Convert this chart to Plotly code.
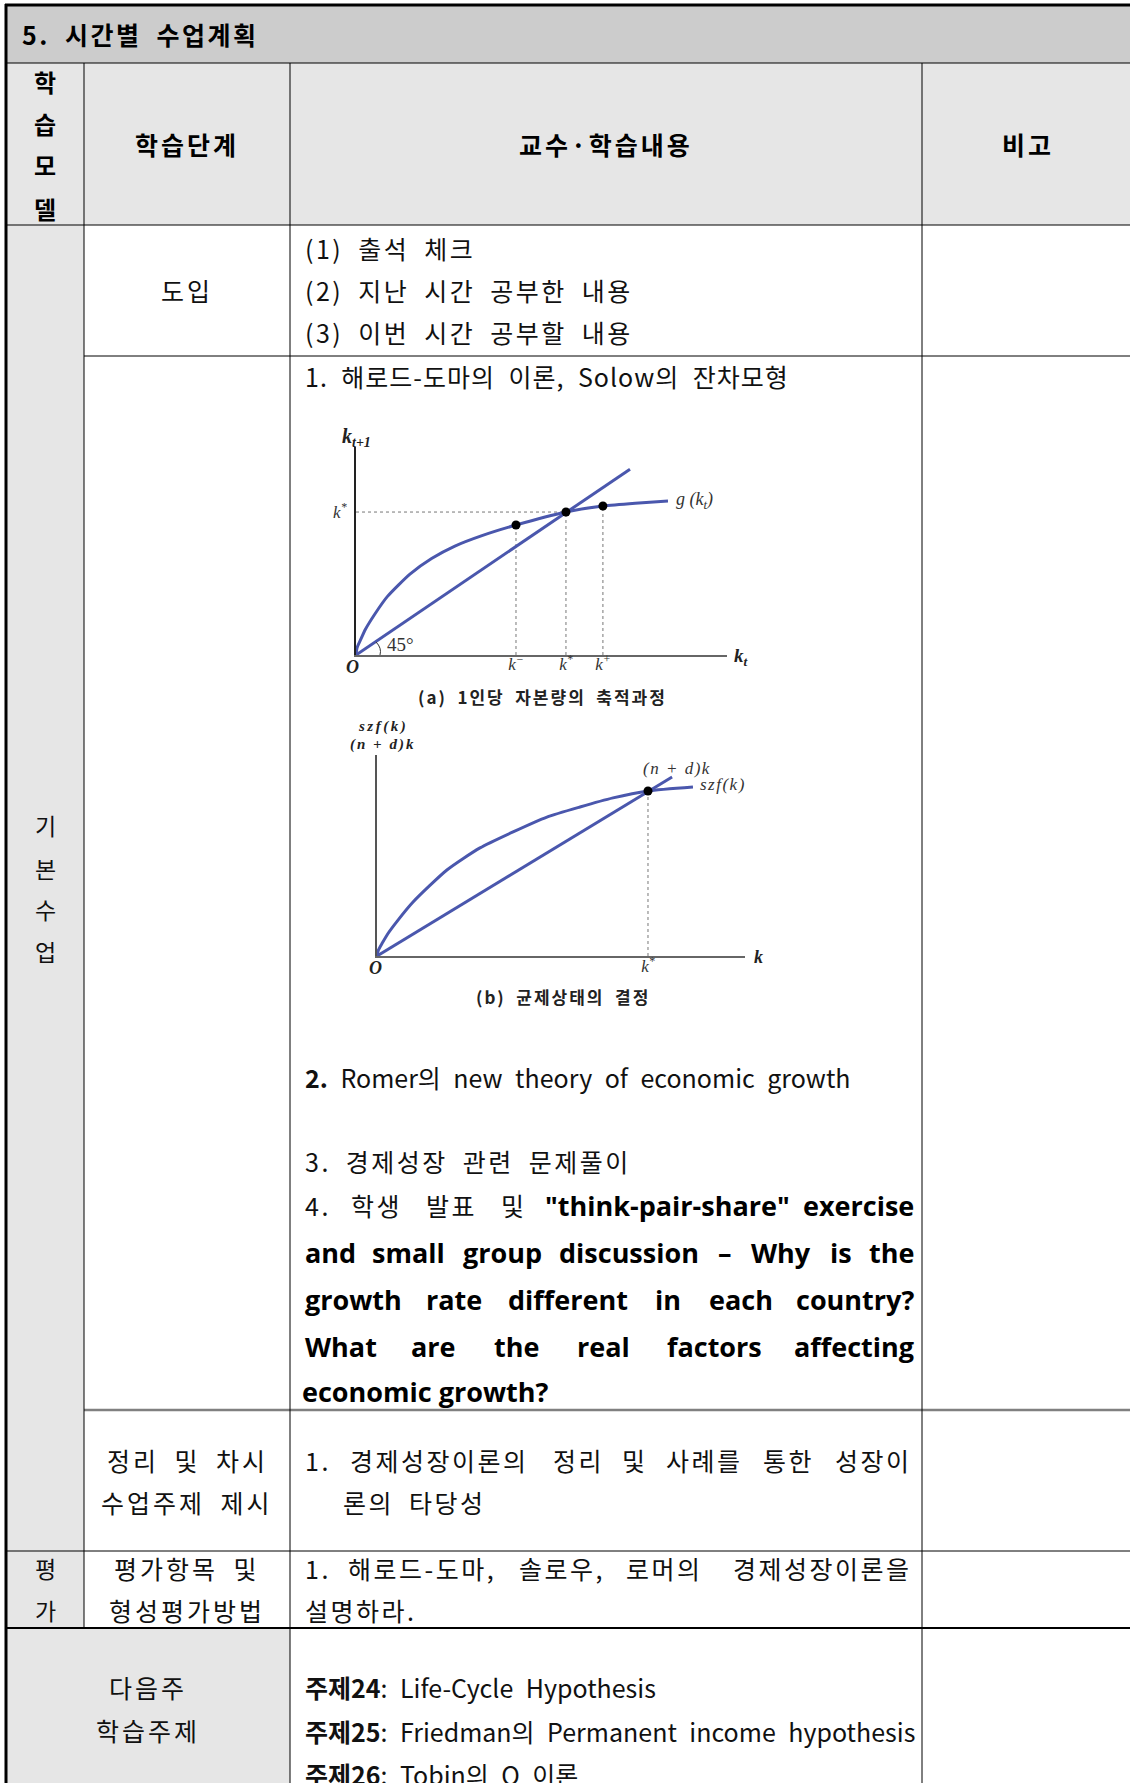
import plotly.graph_objects as go

W, H = 1130, 1783
KR = "Noto Sans CJK KR"
EN = "Open Sans"
SERIF = "Liberation Serif"
BLUE = "#4a57ad"

# ---------------- chart (a): accumulation of capital per person ----------------
g_k = [0, 0.005, 0.02, 0.045, 0.09, 0.15, 0.257, 0.36, 0.471, 0.60, 0.762, 1.0, 1.176, 1.33, 1.486]
g_val = [0, 0.05, 0.10, 0.18, 0.287, 0.41, 0.566, 0.675, 0.762, 0.835, 0.909, 1.0, 1.042, 1.062, 1.077]
line45_k = [0, 1.305]
line45_val = [0, 1.30]
dots_a_k = [0.762, 1.0, 1.176]
dots_a_val = [0.909, 1.0, 1.042]
ticks_a = ["k<sup>−</sup>", "k<sup>*</sup>", "k<sup>+</sup>"]

# ---------------- chart (b): steady state ----------------
szf_k = [0, 0.005, 0.02, 0.04, 0.074, 0.133, 0.258, 0.380, 0.502, 0.627, 0.749, 0.871, 1.0, 1.166]
szf_val = [0, 0.035, 0.08, 0.135, 0.21, 0.327, 0.521, 0.655, 0.752, 0.842, 0.903, 0.958, 1.0, 1.024]
nd_k = [0, 1.089]
nd_val = [0, 1.085]
dot_b_k = [1.0]
dot_b_val = [1.0]
ticks_b = ["k<sup>*</sup>"]

SP = "\u2002"


def X(px):
    return px / W


def Y(py):
    return 1 - py / H


def ls(s, px=3):
    return f'<span style="letter-spacing:{px}px">{s}</span>'


fig = go.Figure()
dot_line = dict(color="#777777", width=1, dash="dot")
curve_line = dict(color=BLUE, width=3, shape="spline", smoothing=0.6)

# chart (a)
for k, v in zip(dots_a_k, dots_a_val):
    fig.add_trace(go.Scatter(x=[k, k], y=[0, v], mode="lines", line=dot_line,
                             xaxis="x", yaxis="y", hoverinfo="skip"))
fig.add_trace(go.Scatter(x=[0, dots_a_k[1]], y=[dots_a_val[1], dots_a_val[1]], mode="lines",
                         line=dot_line, xaxis="x", yaxis="y", hoverinfo="skip"))
fig.add_trace(go.Scatter(x=line45_k, y=line45_val, mode="lines",
                         line=dict(color=BLUE, width=3), xaxis="x", yaxis="y"))
fig.add_trace(go.Scatter(x=g_k, y=g_val, mode="lines", line=curve_line, xaxis="x", yaxis="y"))
fig.add_trace(go.Scatter(x=dots_a_k, y=dots_a_val, mode="markers",
                         marker=dict(color="black", size=9), cliponaxis=False,
                         xaxis="x", yaxis="y"))

# chart (b)
for k, v in zip(dot_b_k, dot_b_val):
    fig.add_trace(go.Scatter(x=[k, k], y=[0, v], mode="lines", line=dot_line,
                             xaxis="x2", yaxis="y2", hoverinfo="skip"))
fig.add_trace(go.Scatter(x=nd_k, y=nd_val, mode="lines",
                         line=dict(color=BLUE, width=3), xaxis="x2", yaxis="y2"))
fig.add_trace(go.Scatter(x=szf_k, y=szf_val, mode="lines", line=curve_line, xaxis="x2", yaxis="y2"))
fig.add_trace(go.Scatter(x=dot_b_k, y=dot_b_val, mode="markers",
                         marker=dict(color="black", size=9), cliponaxis=False,
                         xaxis="x2", yaxis="y2"))

tickfont = dict(family=SERIF, size=17, style="italic", color="#333333")
axis_common = dict(showgrid=False, zeroline=False, ticks="", fixedrange=True, tickfont=tickfont)

# ---------------- table shapes ----------------
shapes = []


def rect(x0, y0, x1, y1, color):
    shapes.append(dict(type="rect", xref="paper", yref="paper", x0=X(x0), x1=X(x1),
                       y0=Y(y1), y1=Y(y0), fillcolor=color, line=dict(width=0), layer="below"))


def hline(y, x0, x1, width=1, color="black"):
    shapes.append(dict(type="line", xref="paper", yref="paper", x0=X(x0), x1=X(x1),
                       y0=Y(y), y1=Y(y), line=dict(color=color, width=width)))


def vline(x, y0, y1, width=1, color="black"):
    shapes.append(dict(type="line", xref="paper", yref="paper", x0=X(x), x1=X(x),
                       y0=Y(y0), y1=Y(y1), line=dict(color=color, width=width)))


GRAY1 = "#cccccc"
GRAY2 = "#e6e6e6"
rect(6, 5, 1135, 63, GRAY1)
rect(6, 63, 1135, 225, GRAY2)
rect(6, 225, 84, 1551, GRAY2)
rect(6, 1551, 84, 1628, GRAY2)
rect(6, 1628, 290, 1790, GRAY2)

hline(63, 6, 1135)
hline(225, 6, 1135)
hline(356, 84, 1135)
hline(1410, 84, 1135, width=2.5, color="#808080")
hline(1551, 6, 1135)
hline(1628, 6, 1135, width=2)
vline(84, 63, 1628)
vline(290, 63, 1790)
vline(922, 63, 1790)
vline(6, 4, 1790, width=3)
hline(5, 5, 1135, width=3)

# small 45 degree arc
shapes.append(dict(type="path", xref="paper", yref="paper",
                   path=f"M {X(376)},{Y(642)} Q {X(382)},{Y(648)} {X(380)},{Y(655)}",
                   line=dict(color="#333333", width=1)))

# ---------------- annotations ----------------
anns = []


def ann(x, y, text, size=25, family=KR, anchor="left", color="#111111", weight="normal", style="normal"):
    anns.append(dict(x=X(x), y=Y(y), xref="paper", yref="paper", text=text, showarrow=False,
                     xanchor=anchor, yanchor="middle",
                     font=dict(family=family, size=size, color=color, weight=weight, style=style)))


KR_LAT = {".": 0.25, ",": 0.25, ":": 0.25, "-": 0.33, "(": 0.33, ")": 0.33, " ": 0.22, SP: 0.5}
EN_W = {"a": .575, "b": .618, "c": .499, "d": .618, "e": .577, "f": .381, "g": .55, "h": .637,
        "i": .295, "j": .295, "k": .598, "l": .295, "m": .958, "n": .637, "o": .606, "p": .618,
        "q": .618, "r": .438, "s": .487, "t": .418, "u": .637, "v": .555, "w": .844, "x": .581,
        "y": .555, "z": .479, "W": .949, "T": .571, '"': .472, "-": .322, "?": .464, "–": .5}


def text_width(s, family, size, spacing=0):
    tot = 0.0
    for ch in s:
        if "\uac00" <= ch <= "\ud7a3":
            tot += 1.0
        elif family == EN:
            tot += EN_W.get(ch, 0.58)
        elif ch.isdigit():
            tot += 0.55
        else:
            tot += KR_LAT.get(ch, 0.52)
    return tot * size + spacing * len(s)


def justify(words, y, x0, x1):
    # words: (text, family, size, weight, letter-spacing)
    ws = [text_width(t, f, s, sp) for t, f, s, wgt, sp in words]
    gap = (x1 - x0 - sum(ws)) / (len(words) - 1)
    pos = x0
    n = len(words)
    for i, ((t, f, s, wgt, sp), w) in enumerate(zip(words, ws)):
        col = "#000000" if wgt == "bold" else "#111111"
        txt = ls(t, sp) if sp else t
        if i == 0:
            ann(x0, y, txt, s, f, "left", col, wgt)
        elif i == n - 1:
            ann(x1, y, txt, s, f, "right", col, wgt)
        else:
            ann(pos + w / 2, y, txt, s, f, "center", col, wgt)
        pos += w + gap


LS = 2.5
# title and header
ann(20, 34, ls(f"5.{SP}시간별{SP}수업계획", 2.5), 25, weight="bold", color="#000000")
for ch, yy in zip("학습모델", [82, 123, 165, 208]):
    ann(45, yy, ch, 24, anchor="center", weight="bold", color="#000000")
ann(187, 144, ls("학습단계", 3), 25, anchor="center", weight="bold", color="#000000")
ann(606, 144, ls("교수·학습내용", 3), 25, anchor="center", weight="bold", color="#000000")
ann(1028, 144, ls("비고", 3), 25, anchor="center", weight="bold", color="#000000")

# left column
for ch, yy in zip("기본수업", [825, 868, 909, 951]):
    ann(45, yy, ch, 23, anchor="center")
for ch, yy in zip("평가", [1568, 1610]):
    ann(45, yy, ch, 23, anchor="center")

# 도입 row
ann(187, 290, ls("도입", 3), 25, anchor="center")
ann(303, 248, ls(f"(1){SP}출석{SP}체크", LS), 25)
ann(303, 290, ls(f"(2){SP}지난{SP}시간{SP}공부한{SP}내용", LS), 25)
ann(303, 332, ls(f"(3){SP}이번{SP}시간{SP}공부할{SP}내용", LS), 25)

# main row
ann(303, 376, ls(f"1.{SP}해로드-도마의{SP}이론,{SP}Solow의{SP}잔차모형", 1), 25)
ann(303, 1077, f"<b>2.</b>{SP}Romer의{SP}new{SP}theory{SP}of{SP}economic{SP}growth", 25)
ann(303, 1161, ls(f"3.{SP}경제성장{SP}관련{SP}문제풀이", LS), 25)

B = 27
justify([("4.", KR, 25, "normal", LS), ("학생", KR, 25, "normal", LS), ("발표", KR, 25, "normal", LS),
         ("및", KR, 25, "normal", LS), ('"think-pair-share"', EN, B, "bold", 0),
         ("exercise", EN, B, "bold", 0)],
        1205, 303, 916)
justify([(w, EN, B, "bold", 0) for w in "and small group discussion – Why is the".split(" ")], 1252, 303, 916)
justify([(w, EN, B, "bold", 0) for w in "growth rate different in each country?".split(" ")], 1299, 303, 916)
justify([(w, EN, B, "bold", 0) for w in "What are the real factors affecting".split(" ")], 1346, 303, 916)
ann(300, 1391, "economic growth?", B, EN, "left", "#000000", "bold")

# chart labels (a)
ann(356, 437, "k<sub>t+1</sub>", 20, SERIF, "center", "#222222", "bold", "italic")
ann(732, 657, "k<sub>t</sub>", 19, SERIF, "left", "#222222", "bold", "italic")
ann(674, 500, "g (k<sub>t</sub>)", 18, SERIF, "left", "#333333", "normal", "italic")
ann(352, 667, "O", 18, SERIF, "center", "#222222", "bold", "italic")
ann(400, 645, "45°", 19, SERIF, "center", "#333333")
ann(542, 696, ls(f"(a){SP}1인당{SP}자본량의{SP}축적과정", 2), 17, KR, "center", "#222222", "bold")

# chart labels (b)
ann(383, 726, ls("szf(k)", 2.5), 15, SERIF, "center", "#222222", "bold", "italic")
ann(382, 744, ls("(n + d)k", 2), 15, SERIF, "center", "#222222", "bold", "italic")
ann(752, 957, "k", 18, SERIF, "left", "#222222", "bold", "italic")
ann(375, 968, "O", 18, SERIF, "center", "#222222", "bold", "italic")
ann(677, 768, ls("(n + d)k", 1.5), 17, SERIF, "center", "#333333", "normal", "italic")
ann(723, 784, ls("szf(k)", 1.5), 17, SERIF, "center", "#333333", "normal", "italic")
ann(563, 997, ls(f"(b){SP}균제상태의{SP}결정", 2), 17, KR, "center", "#222222", "bold")

# 정리 row
ann(187, 1460, ls(f"정리{SP}및{SP}차시", 3), 25, anchor="center")
ann(187, 1502, ls(f"수업주제{SP}제시", 3), 25, anchor="center")
justify([(w, KR, 25, "normal", LS) for w in "1. 경제성장이론의 정리 및 사례를 통한 성장이".split(" ")],
        1460, 303, 914)
ann(341, 1502, ls(f"론의{SP}타당성", LS), 25)

# 평가 row
ann(187, 1568, ls(f"평가항목{SP}및", 3), 25, anchor="center")
ann(187, 1610, ls("형성평가방법", 3), 25, anchor="center")
justify([(w, KR, 25, "normal", LS) for w in "1. 해로드-도마, 솔로우, 로머의 경제성장이론을".split(" ")],
        1568, 303, 914)
ann(303, 1610, ls("설명하라.", LS), 25)

# 다음주 row
ann(148, 1687, ls("다음주", 3), 25, anchor="center")
ann(148, 1730, ls("학습주제", 3), 25, anchor="center")
ann(303, 1687, f"<b>주제24</b>:{SP}Life-Cycle{SP}Hypothesis", 25)
ann(303, 1731, f"<b>주제25</b>:{SP}Friedman의{SP}Permanent{SP}income{SP}hypothesis", 25)
ann(303, 1774, f"<b>주제26</b>:{SP}Tobin의{SP}Q{SP}이론", 25)

fig.update_layout(
    width=W, height=H, margin=dict(l=0, r=0, t=0, b=0, pad=0),
    paper_bgcolor="white", plot_bgcolor="rgba(0,0,0,0)", showlegend=False,
    xaxis=dict(domain=[X(356), X(727)], range=[0, 1.767], anchor="y", showline=True,
               linecolor="#666666", linewidth=1.5, tickvals=dots_a_k, ticktext=ticks_a,
               ticklabelstandoff=-7, **axis_common),
    yaxis=dict(domain=[Y(655), Y(447)], range=[0, 1.455], anchor="x", showline=True,
               linecolor="#222222", linewidth=2, tickvals=[dots_a_val[1]], ticktext=["k<sup>*</sup>"],
               ticklabelstandoff=4, **axis_common),
    xaxis2=dict(domain=[X(377), X(745)], range=[0, 1.358], anchor="y2", showline=True,
                linecolor="#666666", linewidth=1.5, tickvals=dot_b_k, ticktext=ticks_b,
                ticklabelstandoff=-6, **axis_common),
    yaxis2=dict(domain=[Y(956), Y(755)], range=[0, 1.218], anchor="x2", showline=True,
                linecolor="#555555", linewidth=1.5, showticklabels=False, **axis_common),
    shapes=shapes, annotations=anns,
)

fig.write_html("out.html", config={"displayModeBar": False},
               post_script="document.body.style.margin='0';document.body.style.overflow='hidden';")
